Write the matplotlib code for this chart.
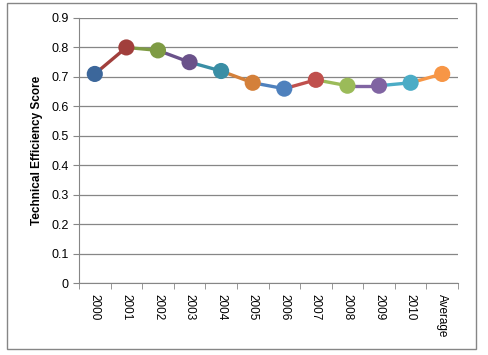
import matplotlib.pyplot as plt
from matplotlib.patches import Rectangle

years = ["2000", "2001", "2002", "2003", "2004", "2005", "2006",
         "2007", "2008", "2009", "2010", "Average"]
scores = [0.71, 0.80, 0.79, 0.75, 0.72, 0.68, 0.66, 0.69, 0.67, 0.67, 0.68, 0.71]
colors = ["#3C679B", "#A13F3C", "#7E9B44", "#6A528A", "#3A8EA5", "#D4803A",
          "#4F81BD", "#C0504D", "#9BBB59", "#8064A2", "#4BACC6", "#F79646"]

plt.rcParams['font.family'] = ['Liberation Sans', 'DejaVu Sans']

fig = plt.figure(figsize=(4.89, 3.55), dpi=100)
ax = fig.add_axes([79 / 489, 1 - 283 / 355, (458 - 79) / 489, (283 - 18) / 355])

# --- line segments take the colour of the point they lead to ---
x = list(range(len(years)))
for i in range(1, len(x)):
    ax.plot(x[i - 1:i + 1], scores[i - 1:i + 1], color=colors[i], lw=2.4,
            solid_capstyle='round', zorder=2)
ax.scatter(x, scores, s=135, c=colors, zorder=3, linewidths=0)

ax.set_xlim(-0.5, len(x) - 0.5)
ax.set_ylim(0, 0.9)
ax.set_yticks([i / 10 for i in range(10)])
ax.set_yticklabels(["0"] + [f"{i / 10:.1f}" for i in range(1, 10)])
ax.set_xticks(x)
ax.set_xticklabels(years, rotation=270)
ax.set_xticks([i - 0.5 for i in range(len(x) + 1)], minor=True)
ax.tick_params(axis='x', which='major', length=0, pad=8, labelsize=8.5)
ax.tick_params(axis='x', which='minor', length=4, color='#868686')
ax.tick_params(axis='y', length=4, color='#868686', labelsize=9)

ax.grid(axis='y', color='#868686', lw=0.9, zorder=0)
for s in ['top', 'right']:
    ax.spines[s].set_visible(False)
for s in ['left', 'bottom']:
    ax.spines[s].set_color('#868686')
ax.set_ylabel("Technical Efficiency Score", fontsize=8.5, fontweight='bold', labelpad=6)

# outer chart border
fig.patches.append(Rectangle((7 / 489, 1 - 349 / 355), 469 / 489, 346 / 355,
                             transform=fig.transFigure, fill=False,
                             edgecolor='#868686', lw=1))

plt.savefig("out.png", dpi=100)
